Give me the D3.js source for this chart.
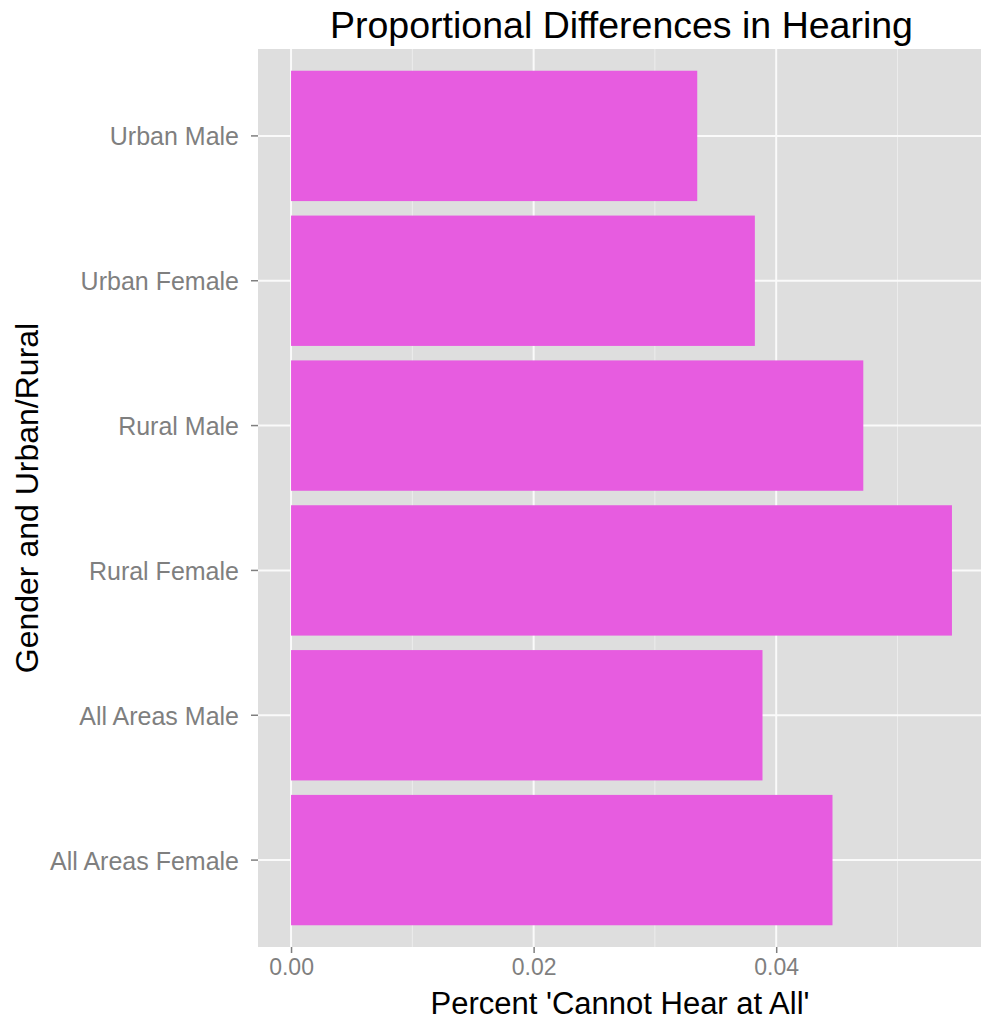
<!DOCTYPE html>
<html><head><meta charset="utf-8">
<script src="https://cdn.jsdelivr.net/npm/d3@7"></script>
<style>body{margin:0;background:#fff;} svg{display:block;font-family:"Liberation Sans",Arial,sans-serif;}</style>
</head><body>
<svg id="c" width="981" height="1025"></svg>
<script>
const categories = ["Urban Male","Urban Female","Rural Male","Rural Female","All Areas Male","All Areas Female"];
const values = [0.03349, 0.03824, 0.04718, 0.05449, 0.03887, 0.04464];
const xTicks = [0, 0.02, 0.04];
const xMinor = [0.01, 0.03, 0.05];
const title = "Proportional Differences in Hearing";
const xTitle = "Percent 'Cannot Hear at All'";
const yTitle = "Gender and Urban/Rural";

const svg = d3.select("#c");
const P = {l:258, r:985, t:49, b:947};
const maxV = d3.max(values);
const x = d3.scaleLinear().domain([-0.05*maxV, 1.05*maxV]).range([P.l, P.r]);
const y = d3.scaleBand().domain(categories).range([P.t, P.b]).paddingInner(0.1).paddingOuter(0.15);

svg.append("rect").attr("x",P.l).attr("y",P.t).attr("width",P.r-P.l).attr("height",P.b-P.t).attr("fill","#dedede");

const g = svg.append("g");
g.selectAll("line.minor").data(xMinor).join("line")
  .attr("x1",d=>x(d)).attr("x2",d=>x(d)).attr("y1",P.t).attr("y2",P.b)
  .attr("stroke","#ececec").attr("stroke-width",1);
g.selectAll("line.majx").data(xTicks).join("line")
  .attr("x1",d=>x(d)).attr("x2",d=>x(d)).attr("y1",P.t).attr("y2",P.b)
  .attr("stroke","#fafafa").attr("stroke-width",2);
g.selectAll("line.majy").data(categories).join("line")
  .attr("y1",d=>y(d)+y.bandwidth()/2).attr("y2",d=>y(d)+y.bandwidth()/2).attr("x1",P.l).attr("x2",P.r)
  .attr("stroke","#fafafa").attr("stroke-width",2);

svg.append("g").selectAll("rect").data(categories).join("rect")
  .attr("x",x(0)).attr("y",d=>y(d)).attr("height",y.bandwidth())
  .attr("width",(d,i)=>x(values[i])-x(0))
  .attr("fill","#e75ce0");

// axes
const xAxis = d3.axisBottom(x).tickValues(xTicks).tickFormat(d3.format(".2f")).tickSize(6).tickPadding(6);
const xa = svg.append("g").attr("transform",`translate(0,${P.b})`).call(xAxis);
xa.select(".domain").remove();
xa.selectAll("line").attr("stroke","#7f7f7f").attr("stroke-width",1.5);
xa.selectAll("text").attr("fill","#7f7f7f").attr("font-size",23).attr("font-family","Liberation Sans, Arial, sans-serif");

const yAxis = d3.axisLeft(y).tickSize(7).tickPadding(12);
const ya = svg.append("g").attr("transform",`translate(${P.l},0)`).call(yAxis);
ya.select(".domain").remove();
ya.selectAll("line").attr("stroke","#7f7f7f").attr("stroke-width",1.5);
ya.selectAll("text").attr("fill","#7f7f7f").attr("font-size",25).attr("dy","0.38em").attr("font-family","Liberation Sans, Arial, sans-serif");

svg.append("text").attr("x",(P.l+P.r)/2).attr("y",38).attr("text-anchor","middle")
  .attr("font-size",37.5).attr("fill","#000").text(title);
svg.append("text").attr("x",620).attr("y",1014).attr("text-anchor","middle")
  .attr("font-size",31).attr("fill","#000").text(xTitle);
svg.append("text").attr("transform",`translate(38,${(P.t+P.b)/2}) rotate(-90)`).attr("text-anchor","middle")
  .attr("font-size",32).attr("fill","#000").text(yTitle);
</script>
</body></html>
